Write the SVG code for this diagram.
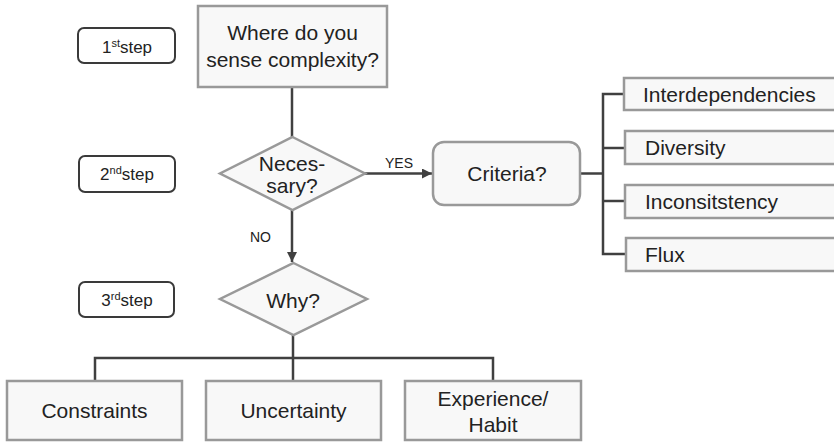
<svg xmlns="http://www.w3.org/2000/svg" width="834" height="442" viewBox="0 0 834 442">
  <defs>
    <marker id="arrow" viewBox="0 0 10 10" refX="10" refY="5" markerWidth="4" markerHeight="4" orient="auto" markerUnits="strokeWidth">
      <path d="M0,0 L10,5 L0,10 z" fill="#404040"/>
    </marker>
    <style>
      .node { fill: #f8f8f8; stroke: #999999; stroke-width: 2.5; }
      .step { fill: #ffffff; stroke: #3a3a3a; stroke-width: 2; }
      .conn { fill: none; stroke: #404040; stroke-width: 2.5; }
      text { font-family: "Liberation Sans", Arial, sans-serif; fill: #222222; }
      .lbl { font-size: 21px; }
      .st { font-size: 17px; }
      .sup { font-size: 11px; }
      .small { font-size: 14px; }
    </style>
  </defs>
  <rect width="834" height="442" fill="#ffffff"/>

  <!-- connectors -->
  <g id="connectors">
    <line class="conn" x1="292" y1="87" x2="292" y2="137"/>
    <line class="conn" x1="365" y1="173.5" x2="432" y2="173.5" marker-end="url(#arrow)"/>
    <line class="conn" x1="292" y1="210" x2="292" y2="262" marker-end="url(#arrow)"/>
    <!-- criteria fan-out -->
    <polyline class="conn" points="580,173.5 603,173.5"/>
    <polyline class="conn" points="625,94 603,94 603,254 625,254"/>
    <line class="conn" x1="603" y1="148" x2="625" y2="148"/>
    <line class="conn" x1="603" y1="201" x2="625" y2="201"/>
    <!-- why fan-out -->
    <line class="conn" x1="293" y1="335" x2="293" y2="381"/>
    <polyline class="conn" points="95,381 95,358 493,358 493,381"/>
    <text class="small" x="385" y="168">YES</text>
    <text class="small" x="250" y="242">NO</text>
  </g>

  <g id="step1">
    <rect class="step" x="78" y="28" width="97" height="35" rx="6"/>
    <text class="st" x="127" y="53" text-anchor="middle">1<tspan class="sup" dy="-6">st</tspan><tspan dy="6">step</tspan></text>
  </g>
  <g id="step2">
    <rect class="step" x="79" y="156" width="96" height="36" rx="6"/>
    <text class="st" x="127" y="180" text-anchor="middle">2<tspan class="sup" dy="-6">nd</tspan><tspan dy="6">step</tspan></text>
  </g>
  <g id="step3">
    <rect class="step" x="79" y="282" width="95" height="35" rx="6"/>
    <text class="st" x="127" y="306" text-anchor="middle">3<tspan class="sup" dy="-6">rd</tspan><tspan dy="6">step</tspan></text>
  </g>

  <g id="where">
    <rect class="node" x="198" y="6" width="189" height="81"/>
    <text class="lbl" x="292.5" y="40" text-anchor="middle">Where do you</text>
    <text class="lbl" x="292.5" y="67" text-anchor="middle">sense complexity?</text>
  </g>

  <g id="necessary">
    <polygon class="node" points="292.5,137 365,173.5 292.5,210 220,173.5"/>
    <text class="lbl" x="292" y="171" text-anchor="middle">Neces-</text>
    <text class="lbl" x="292" y="193" text-anchor="middle">sary?</text>
  </g>

  <g id="criteria">
    <rect class="node" x="433" y="142" width="147" height="63" rx="11"/>
    <text class="lbl" x="507" y="181" text-anchor="middle">Criteria?</text>
  </g>

  <g id="interdependencies">
    <rect class="node" x="624" y="78" width="220" height="32"/>
    <text class="lbl" x="643" y="102">Interdependencies</text>
  </g>
  <g id="diversity">
    <rect class="node" x="625" y="131" width="220" height="33"/>
    <text class="lbl" x="645" y="155">Diversity</text>
  </g>
  <g id="inconsistency">
    <rect class="node" x="625" y="185" width="220" height="33"/>
    <text class="lbl" x="645" y="209">Inconsitstency</text>
  </g>
  <g id="flux">
    <rect class="node" x="626" y="238" width="220" height="33"/>
    <text class="lbl" x="645" y="262">Flux</text>
  </g>

  <g id="why">
    <polygon class="node" points="293.5,263 367,299 293.5,335 220,299"/>
    <text class="lbl" x="293" y="308" text-anchor="middle">Why?</text>
  </g>

  <g id="constraints">
    <rect class="node" x="7" y="381" width="175" height="59"/>
    <text class="lbl" x="94.5" y="418" text-anchor="middle">Constraints</text>
  </g>
  <g id="uncertainty">
    <rect class="node" x="206" y="381" width="175" height="59"/>
    <text class="lbl" x="293.5" y="418" text-anchor="middle">Uncertainty</text>
  </g>
  <g id="experience">
    <rect class="node" x="405" y="381" width="176" height="59"/>
    <text class="lbl" x="493" y="406" text-anchor="middle">Experience/</text>
    <text class="lbl" x="493" y="432" text-anchor="middle">Habit</text>
  </g>
</svg>
